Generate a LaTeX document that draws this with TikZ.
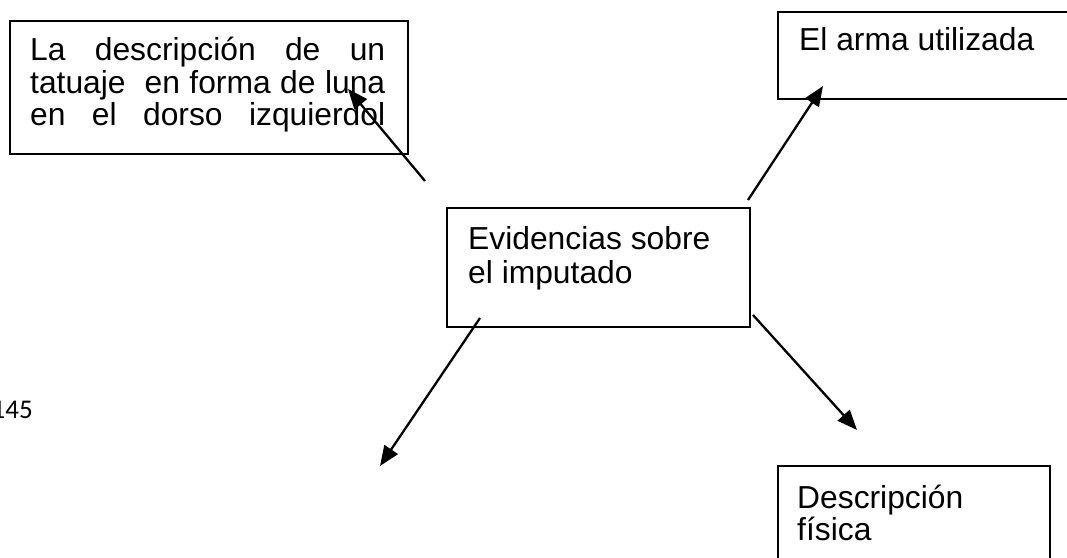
\documentclass[tikz,border=0pt]{standalone}
\usepackage{fontspec}
\setmainfont{Liberation Sans}
\newfontfamily\pagefont{Carlito}
\usetikzlibrary{arrows.meta}
\begin{document}
\begin{tikzpicture}[x=1pt,y=-1pt,
  box/.style={draw,line width=2pt,rectangle,anchor=north west,inner sep=0pt},
  txt/.style={anchor=base west,inner sep=0pt,font=\fontsize{31.8}{33}\selectfont},
  arr/.style={line width=2.3pt,-{Triangle[length=20pt,width=16pt]}}]
\clip (0,0) rectangle (1067,557);
\fill[white] (0,0) rectangle (1067,557);
% boxes
\node[box,minimum width=398pt,minimum height=133pt] (b1) at (9,20) {};
\node[box,minimum width=320pt,minimum height=87pt] (b2) at (777,11) {};
\node[box,minimum width=303pt,minimum height=119pt] (b3) at (446,207) {};
\node[box,minimum width=272pt,minimum height=130pt] (b4) at (777,465) {};
% texts
\node[txt] (t1a) at (30,60) {\makebox[355pt][s]{La descripción de un}};
\node[txt] (t1b) at (30,93) {\makebox[355pt][s]{tatuaje\ \ en forma de luna}};
\node[txt] (t1c) at (30,125) {\makebox[355pt][s]{en el dorso izquierdol}};
\node[txt] (t2) at (799,50) {El arma utilizada};
\node[txt] (t3a) at (468,249) {Evidencias sobre};
\node[txt] (t3b) at (468,283) {el imputado};
\node[txt] (t4a) at (797,508) {Descripción};
\node[txt] (t4b) at (797,540) {física};
\node[anchor=base east,inner sep=0pt,font=\pagefont\fontsize{27}{30}\selectfont] (pg) at (33,418) {145};
% arrow ends
\coordinate (a1s) at (425,181);
\coordinate (a1e) at (348,89);
\coordinate (a2s) at (748,200);
\coordinate (a2e) at (823,86);
\coordinate (a3s) at (480,318);
\coordinate (a3e) at (380,466);
\coordinate (a4s) at (753,315);
\coordinate (a4e) at (857,430);
\draw[arr] (a1s) -- (a1e);
\draw[arr] (a2s) -- (a2e);
\draw[arr] (a3s) -- (a3e);
\draw[arr] (a4s) -- (a4e);
\end{tikzpicture}
\end{document}
